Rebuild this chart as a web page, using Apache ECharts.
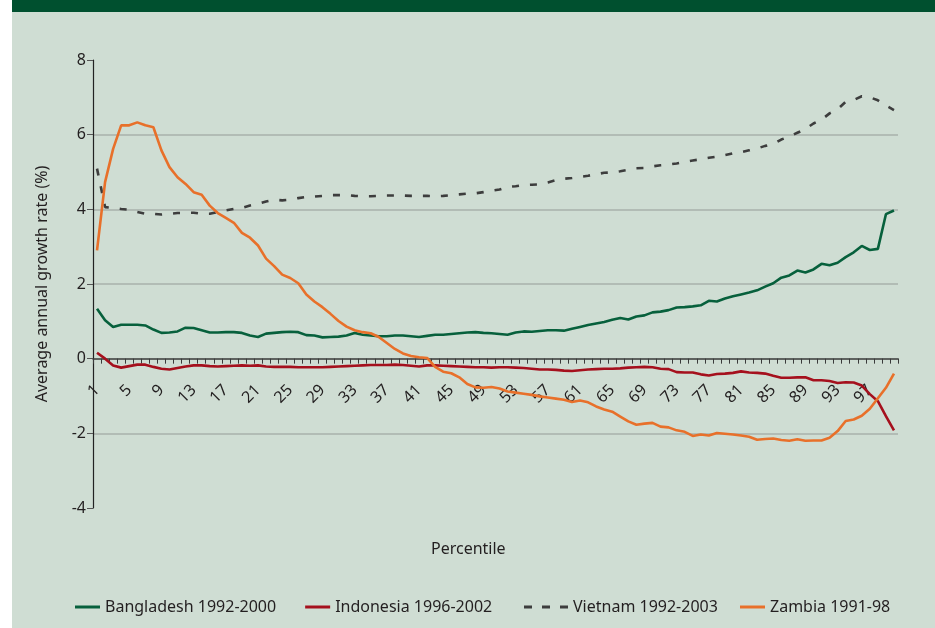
<!DOCTYPE html>
<html>
<head>
<meta charset="utf-8">
<script src="https://cdn.jsdelivr.net/npm/echarts@6/dist/echarts.min.js"></script>
<style>
  html, body { margin: 0; padding: 0; background: #ffffff; }
  #frame { position: absolute; left: 12px; top: 0; width: 923px; height: 628px;
    background: linear-gradient(#00502f 0, #00502f 12px, #cfddd3 12px); }
  #chart { position: absolute; left: 0; top: 0; width: 935px; height: 628px; }
</style>
</head>
<body>
<div id="frame"></div>
<div id="chart"></div>
<script>
// percentiles 1..100
const percentiles = [];
for (let i = 1; i <= 100; i++) percentiles.push(String(i));

const bangladesh = [
  1.34, 1.03, 0.85, 0.91, 0.91, 0.91, 0.89, 0.78, 0.69, 0.70,
  0.73, 0.83, 0.82, 0.76, 0.70, 0.70, 0.71, 0.71, 0.69, 0.62,
  0.58, 0.67, 0.69, 0.71, 0.72, 0.71, 0.63, 0.62, 0.57, 0.58,
  0.59, 0.62, 0.69, 0.64, 0.62, 0.60, 0.60, 0.62, 0.62, 0.60,
  0.58, 0.61, 0.64, 0.64, 0.66, 0.68, 0.70, 0.71, 0.69, 0.68,
  0.66, 0.64, 0.70, 0.73, 0.72, 0.74, 0.76, 0.76, 0.75, 0.80,
  0.85, 0.90, 0.94, 0.98, 1.04, 1.09, 1.05, 1.13, 1.16, 1.24,
  1.26, 1.30, 1.37, 1.38, 1.40, 1.43, 1.55, 1.53, 1.61, 1.67,
  1.72, 1.77, 1.83, 1.93, 2.02, 2.17, 2.23, 2.36, 2.31, 2.39,
  2.54, 2.50, 2.57, 2.72, 2.85, 3.02, 2.91, 2.94, 3.87, 3.97
];

const indonesia = [
  0.16, 0.00, -0.18, -0.24, -0.20, -0.16, -0.16, -0.22, -0.27, -0.29,
  -0.25, -0.21, -0.18, -0.18, -0.20, -0.21, -0.20, -0.19, -0.18, -0.19,
  -0.18, -0.21, -0.22, -0.22, -0.22, -0.23, -0.23, -0.23, -0.23, -0.22,
  -0.21, -0.20, -0.19, -0.18, -0.17, -0.17, -0.17, -0.16, -0.17, -0.19,
  -0.21, -0.18, -0.18, -0.19, -0.20, -0.21, -0.22, -0.23, -0.23, -0.24,
  -0.23, -0.23, -0.24, -0.25, -0.27, -0.29, -0.29, -0.30, -0.32, -0.33,
  -0.31, -0.29, -0.28, -0.27, -0.27, -0.26, -0.24, -0.23, -0.22, -0.23,
  -0.27, -0.28, -0.36, -0.37, -0.37, -0.42, -0.45, -0.41, -0.40, -0.38,
  -0.34, -0.37, -0.38, -0.40, -0.46, -0.51, -0.51, -0.50, -0.50, -0.58,
  -0.58, -0.60, -0.65, -0.63, -0.64, -0.72, -0.95, -1.14, -1.54, -1.92
];

const vietnam = [
  5.09, 4.06, 4.04, 4.01, 3.99, 3.93, 3.88, 3.88, 3.86, 3.88,
  3.90, 3.91, 3.91, 3.88, 3.88, 3.93, 3.97, 4.01, 4.04, 4.10,
  4.15, 4.21, 4.26, 4.24, 4.26, 4.30, 4.33, 4.34, 4.36, 4.38,
  4.38, 4.38, 4.36, 4.35, 4.35, 4.36, 4.37, 4.37, 4.37, 4.36,
  4.36, 4.36, 4.35, 4.36, 4.38, 4.40, 4.42, 4.43, 4.46, 4.50,
  4.53, 4.60, 4.62, 4.65, 4.66, 4.67, 4.72, 4.78, 4.82, 4.84,
  4.87, 4.90, 4.94, 4.98, 4.99, 5.02, 5.06, 5.10, 5.11, 5.15,
  5.18, 5.20, 5.23, 5.27, 5.31, 5.34, 5.38, 5.41, 5.45, 5.50,
  5.53, 5.58, 5.63, 5.70, 5.75, 5.87, 5.95, 6.05, 6.15, 6.30,
  6.40, 6.57, 6.68, 6.88, 6.93, 7.03, 7.00, 6.92, 6.78, 6.66
];

const zambia = [
  2.90, 4.73, 5.62, 6.25, 6.25, 6.33, 6.25, 6.20, 5.58, 5.13,
  4.86, 4.68, 4.46, 4.39, 4.10, 3.90, 3.77, 3.64, 3.37, 3.24,
  3.03, 2.68, 2.48, 2.25, 2.16, 2.02, 1.72, 1.53, 1.38, 1.20,
  1.01, 0.86, 0.76, 0.71, 0.68, 0.58, 0.42, 0.26, 0.14, 0.07,
  0.04, 0.02, -0.22, -0.35, -0.39, -0.50, -0.68, -0.77, -0.78, -0.76,
  -0.80, -0.88, -0.91, -0.94, -0.97, -1.01, -1.04, -1.07, -1.10, -1.16,
  -1.12, -1.17, -1.28, -1.36, -1.42, -1.55, -1.68, -1.77, -1.74, -1.72,
  -1.82, -1.84, -1.92, -1.96, -2.07, -2.03, -2.06, -1.99, -2.01, -2.03,
  -2.06, -2.09, -2.17, -2.15, -2.14, -2.18, -2.20, -2.16, -2.20, -2.19,
  -2.19, -2.12, -1.94, -1.67, -1.63, -1.53, -1.34, -1.06, -0.78, -0.40
];

const seriesNames = ['Bangladesh 1992-2000', 'Indonesia 1996-2002', 'Vietnam 1992-2003', 'Zambia 1991-98'];

const yMin = -4, yMax = 8;
const gridTop = 60, gridBottom = 120, chartH = 628;

const font = '"Noto Sans", "Open Sans", sans-serif';
const textColor = '#231f20';
const gridColor = '#a9b0ab';
const none = 'rgba(0,0,0,0)';

// x axis sits on the zero line, with its labels just under it
const plotH = chartH - gridTop - gridBottom;
const zeroOffset = -plotH * (0 - yMin) / (yMax - yMin);

const solidIcon = 'path://M0,0h25v3h-25z';
const dashIcon = 'path://M0,0h8v3h-8z M18,0h8v3h-8z M36,0h8v3h-8z';

const legendText = { fontFamily: font, fontSize: 16, color: textColor };

const chart = echarts.init(document.getElementById('chart'));

function lineSeries(name, data, color, type) {
  return {
    name: name,
    type: 'line',
    data: data,
    symbol: 'none',
    lineStyle: { color: color, width: 2.6, type: type || 'solid' },
    itemStyle: { color: color }
  };
}

chart.setOption({
  animation: false,
  backgroundColor: 'transparent',
  textStyle: { fontFamily: font },
  title: {
    text: 'Percentile',
    left: 426,
    top: 536,
    textStyle: { fontFamily: font, fontSize: 16, fontWeight: 'normal', color: textColor }
  },
  grid: { left: 93, right: 37, top: gridTop, bottom: gridBottom, containLabel: false },
  legend: [
    {
      left: 70, top: 594, itemWidth: 25, itemHeight: 3, itemGap: 29,
      symbolKeepAspect: false, textStyle: legendText,
      data: [
        { name: seriesNames[0], icon: solidIcon },
        { name: seriesNames[1], icon: solidIcon }
      ]
    },
    {
      left: 519, top: 594, itemWidth: 44, itemHeight: 3,
      symbolKeepAspect: false, textStyle: legendText,
      data: [{ name: seriesNames[2], icon: dashIcon }]
    },
    {
      left: 735, top: 594, itemWidth: 25, itemHeight: 3,
      symbolKeepAspect: false, textStyle: legendText,
      data: [{ name: seriesNames[3], icon: solidIcon }]
    }
  ],
  xAxis: {
    type: 'category',
    data: percentiles,
    boundaryGap: true,
    offset: zeroOffset,
    axisLine: { onZero: false, lineStyle: { color: '#3a3a3a', width: 1.5 } },
    axisTick: { show: true, interval: 0, length: 5, lineStyle: { color: '#3a3a3a' } },
    axisLabel: {
      interval: 3,
      rotate: 45,
      margin: 29,
      fontSize: 16,
      color: textColor,
      fontFamily: font
    },
    splitLine: { show: false }
  },
  yAxis: {
    type: 'value',
    min: yMin,
    max: yMax,
    interval: 2,
    name: 'Average annual growth rate (%)',
    nameLocation: 'middle',
    nameGap: 43,
    nameTextStyle: { fontSize: 16, color: textColor, fontFamily: font },
    axisLine: { show: true, lineStyle: { color: '#222', width: 1.2 } },
    axisTick: { show: true, length: 6, lineStyle: { color: '#555' } },
    axisLabel: { fontSize: 16, color: textColor, margin: 7, fontFamily: font },
    splitLine: {
      show: true,
      lineStyle: { color: [none, gridColor, none, gridColor, gridColor, gridColor, none], width: 1.5 }
    }
  },
  series: [
    lineSeries(seriesNames[0], bangladesh, '#07603c'),
    lineSeries(seriesNames[1], indonesia, '#a5101d'),
    lineSeries(seriesNames[2], vietnam, '#3d3d3d', [7, 11]),
    lineSeries(seriesNames[3], zambia, '#e8702a')
  ]
});
</script>
</body>
</html>
